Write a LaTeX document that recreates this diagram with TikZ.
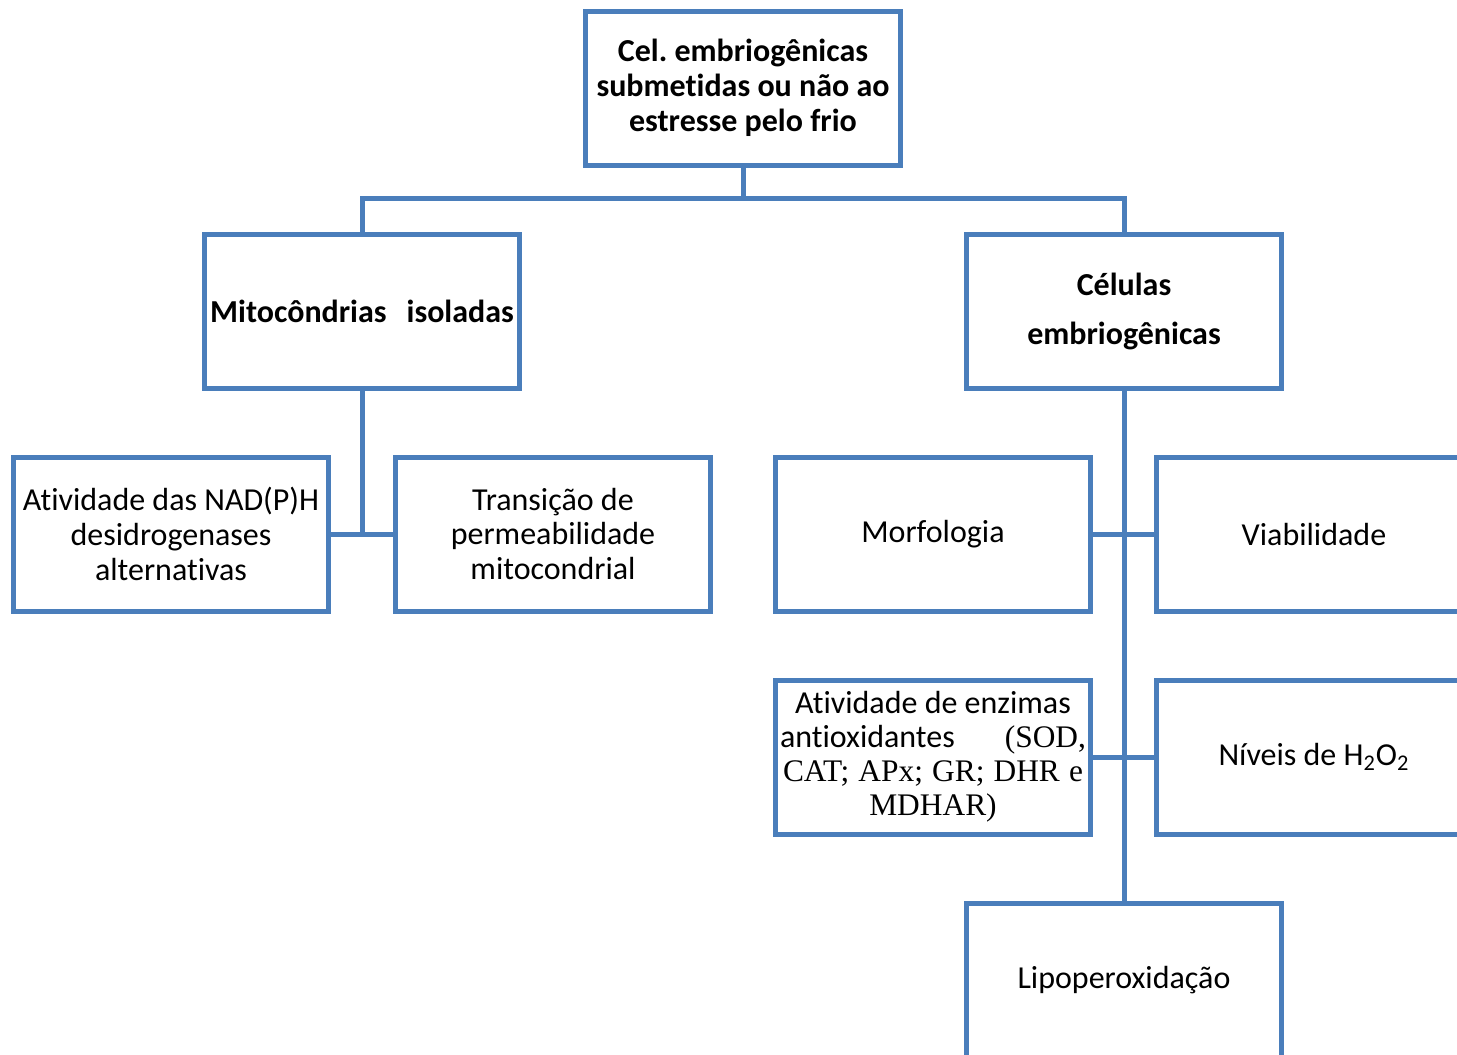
\documentclass[tikz,border=0pt]{standalone}
\usepackage{fontspec}
\setmainfont{Carlito}[Ligatures=NoCommon]
\newfontfamily\timesfnt{Liberation Serif}
\usetikzlibrary{positioning}
\definecolor{boxblue}{HTML}{4A7EBB}
\frenchspacing

\begin{document}
\begin{tikzpicture}[x=0.5pt,y=-0.5pt,
	box/.style={draw=boxblue,line width=2.5pt,fill=white,minimum width=157.5pt,minimum height=77pt,
		inner sep=1pt,align=center,font=\fontsize{16}{17.5}\selectfont},
	link/.style={draw=boxblue,line width=2.5pt}]
	\useasboundingbox (0,0) rectangle (1457,1055);
	  \node[box,font=\fontsize{16}{17.5}\selectfont\bfseries] (top) at (743,88)
	    {Cel. embriog\^enicas\\submetidas ou n\~ao ao\\estresse pelo frio};
	  \node[box,font=\fontsize{16}{17.5}\selectfont\bfseries] (mito) at (362,311)
	    {Mitoc\^ondrias\hspace{10pt}isoladas};
	  \node[box,font=\fontsize{16}{17.5}\selectfont\bfseries] (cel) at (1124,311)
	    {C\'elulas\\[7pt]embriog\^enicas};
	  \node[box] (nad)   at (171,534)  {Atividade das NAD(P)H\\desidrogenases\\alternativas};
	  \node[box] (trans) at (553,534)  {Transi\c{c}\~ao de\\permeabilidade\\mitocondrial};
	  \node[box] (morf)  at (933,534)  {Morfologia};
	  \node[box] (viab)  at (1314,534) {Viabilidade};
	  \node[box,font=\fontsize{16}{17}\selectfont] (enz) at (933,757)
	    {Atividade de enzimas\\
	     \makebox[153pt][s]{antioxidantes {\timesfnt\fontsize{15.7}{17}\selectfont(SOD,}}\\
	     {\timesfnt\fontsize{15.7}{17}\selectfont\makebox[150pt][s]{CAT; APx; GR; DHR e}}\\
	     {\timesfnt\fontsize{15.7}{17}\selectfont MDHAR)}};
	  \node[box] (niv)   at (1314,757) {N\'iveis de H\textsubscript{2}O\textsubscript{2}};
	  \node[box] (lipo)  at (1124,980) {Lipoperoxida\c{c}\~ao};
	  \coordinate (hub) at (743,198);
	  \draw[link] (top.south) -- (hub);
	  \draw[link] (mito.north) |- (hub) -| (cel.north);
	  \draw[link] (mito.south) -- (mito.south |- nad.east);
	  \draw[link] (nad.east) -- (trans.west);
	  \draw[link] (cel.south) -- (lipo.north);
	  \draw[link] (morf.east) -- (viab.west);
	  \draw[link] (enz.east) -- (niv.west);
	\end{tikzpicture}
\end{document}
